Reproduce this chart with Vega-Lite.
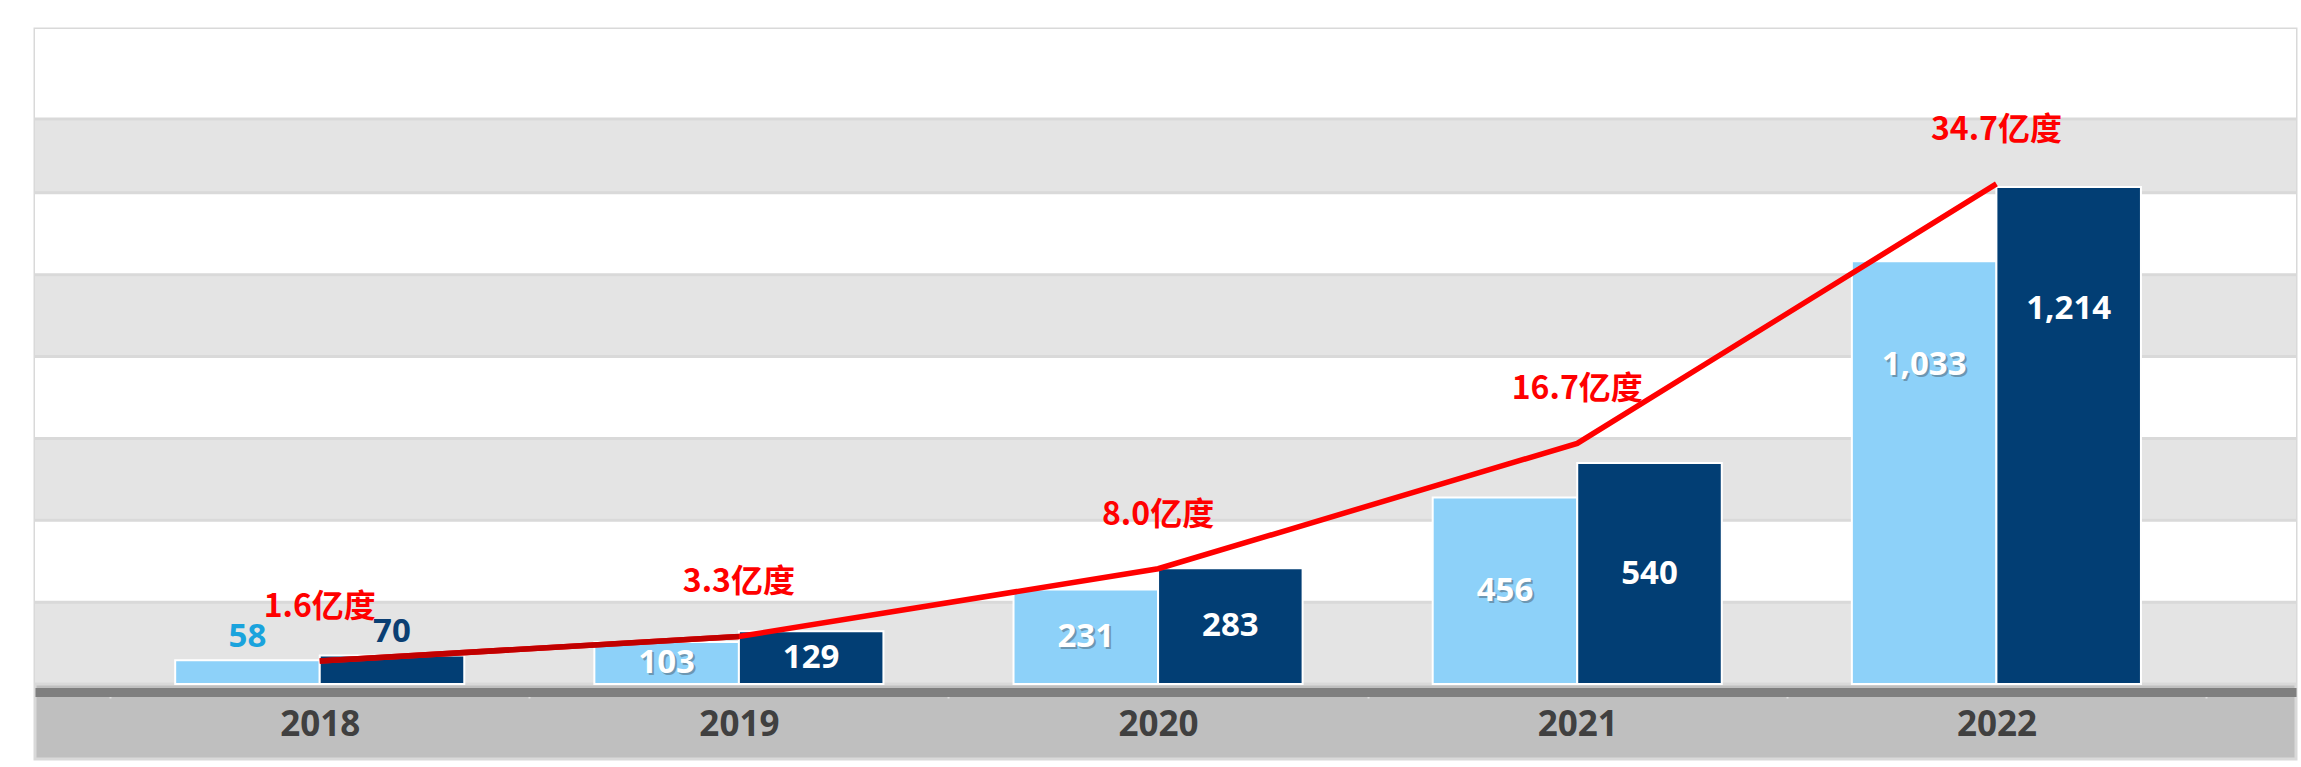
{
  "$schema": "https://vega.github.io/schema/vega-lite/v6.json",
  "width": 2261,
  "height": 730,
  "padding": {"left": 33, "top": 29, "right": 7, "bottom": 8},
  "background": "#FFFFFF",
  "config": {
    "view": {"fill": "#BFBFBF", "stroke": "#D9D9D9", "strokeWidth": 3},
    "axisX": {
      "domainColor": "#7F7F7F",
      "domainWidth": 9,
      "offset": -67,
      "tickBand": "extent",
      "tickColor": "#DDDDDD",
      "tickWidth": 2,
      "tickSize": 6,
      "labelFont": "Open Sans",
      "labelFontSize": 35,
      "labelFontWeight": "bold",
      "labelColor": "#404040",
      "labelPadding": 26,
      "labelBaseline": "middle",
      "labelAngle": 0,
      "grid": false,
      "title": null
    }
  },
  "datasets": {
    "bars": [
      {"year": "2018", "series": "系列1", "value": 58},
      {"year": "2018", "series": "系列2", "value": 70},
      {"year": "2019", "series": "系列1", "value": 103},
      {"year": "2019", "series": "系列2", "value": 129},
      {"year": "2020", "series": "系列1", "value": 231},
      {"year": "2020", "series": "系列2", "value": 283},
      {"year": "2021", "series": "系列1", "value": 456},
      {"year": "2021", "series": "系列2", "value": 540},
      {"year": "2022", "series": "系列1", "value": 1033},
      {"year": "2022", "series": "系列2", "value": 1214}
    ],
    "energy": [
      {"year": "2018", "energy": 1.6},
      {"year": "2019", "energy": 3.3},
      {"year": "2020", "energy": 8.0},
      {"year": "2021", "energy": 16.7},
      {"year": "2022", "energy": 34.7}
    ],
    "bands": [
      {"lo": 0, "hi": 200},
      {"lo": 200, "hi": 400},
      {"lo": 400, "hi": 600},
      {"lo": 600, "hi": 800},
      {"lo": 800, "hi": 1000},
      {"lo": 1000, "hi": 1200},
      {"lo": 1200, "hi": 1380},
      {"lo": 1380, "hi": 1600}
    ]
  },
  "layer": [
    {
      "layer": [
        {
          "data": {"name": "bands"},
          "mark": {"type": "rect"},
          "encoding": {
            "y": {"field": "lo", "type": "quantitative", "scale": {"domain": [-183, 1600], "nice": false, "zero": false}, "axis": null},
            "y2": {"field": "hi"},
            "color": {"condition": {"test": "datum.lo % 400 === 0", "value": "#E4E4E4"}, "value": "#FFFFFF"}
          }
        },
        {
          "data": {"name": "bands"},
          "mark": {"type": "rule", "color": "#D9D9D9", "strokeWidth": 3},
          "encoding": {
            "y": {"field": "lo", "type": "quantitative", "axis": null}
          }
        },
        {
          "data": {"name": "bars"},
          "mark": {"type": "bar", "stroke": "#FFFFFF", "strokeWidth": 2},
          "encoding": {
            "x": {"field": "year", "type": "nominal", "title": null, "scale": {"paddingInner": 0, "paddingOuter": 0.197, "align": 0.455}},
            "xOffset": {"field": "series", "scale": {"paddingInner": 0, "paddingOuter": 0.45}},
            "y": {"field": "value", "type": "quantitative", "axis": null},
            "color": {"field": "series", "type": "nominal", "scale": {"domain": ["系列1", "系列2"], "range": ["#8DD1F9", "#023E74"]}, "legend": null}
          }
        },
        {
          "data": {"name": "bars"},
          "transform": [
            {"filter": "datum.value >= 100 && datum.series === '系列1'"},
            {"calculate": "datum.value > 1000 ? datum.value * 0.755 : datum.value / 2", "as": "labelPos"}
          ],
          "mark": {"type": "text", "font": "Open Sans", "fontSize": 33, "fontWeight": "bold", "baseline": "middle", "dx": 2, "dy": 2, "color": "#5F7F95", "opacity": 0.7},
          "encoding": {
            "x": {"field": "year", "type": "nominal", "title": null},
            "xOffset": {"field": "series"},
            "y": {"field": "labelPos", "type": "quantitative", "axis": null},
            "text": {"field": "value", "type": "quantitative", "format": ","}
          }
        },
        {
          "data": {"name": "bars"},
          "transform": [
            {"filter": "datum.value >= 100"},
            {"calculate": "datum.value > 1000 ? datum.value * 0.755 : datum.value / 2", "as": "labelPos"}
          ],
          "mark": {"type": "text", "font": "Open Sans", "fontSize": 33, "fontWeight": "bold", "baseline": "middle", "color": "#FFFFFF"},
          "encoding": {
            "x": {"field": "year", "type": "nominal", "title": null},
            "xOffset": {"field": "series"},
            "y": {"field": "labelPos", "type": "quantitative", "axis": null},
            "text": {"field": "value", "type": "quantitative", "format": ","}
          }
        },
        {
          "data": {"name": "bars"},
          "transform": [
            {"filter": "datum.value < 100"}
          ],
          "mark": {"type": "text", "font": "Open Sans", "fontSize": 33, "fontWeight": "bold", "baseline": "alphabetic", "dy": -13},
          "encoding": {
            "x": {"field": "year", "type": "nominal", "title": null},
            "xOffset": {"field": "series"},
            "y": {"field": "value", "type": "quantitative", "axis": null},
            "text": {"field": "value", "type": "quantitative", "format": ","},
            "color": {"condition": {"test": "datum.series === '系列1'", "value": "#1AA3DD"}, "value": "#0B3F73"}
          }
        }
      ]
    },
    {
      "data": {"name": "energy"},
      "layer": [
        {
          "mark": {"type": "line", "color": "#FF0000", "strokeWidth": 5.5},
          "encoding": {
            "x": {"field": "year", "type": "nominal", "title": null},
            "y": {"field": "energy", "type": "quantitative", "scale": {"domain": [-5.2, 45.45], "nice": false, "zero": false}, "axis": null}
          }
        },
        {
          "transform": [{"filter": "datum.year === '2018' || datum.year === '2019'"}],
          "mark": {"type": "line", "color": "#C00000", "strokeWidth": 5.5},
          "encoding": {
            "x": {"field": "year", "type": "nominal", "title": null},
            "y": {"field": "energy", "type": "quantitative", "axis": null}
          }
        },
        {
          "transform": [{"calculate": "format(datum.energy, '.1f') + '亿度'", "as": "label"}],
          "mark": {"type": "text", "font": "Noto Sans CJK SC", "fontSize": 32, "fontWeight": "bold", "color": "#FF0000", "baseline": "middle", "dy": -54},
          "encoding": {
            "x": {"field": "year", "type": "nominal", "title": null},
            "y": {"field": "energy", "type": "quantitative", "axis": null},
            "text": {"field": "label", "type": "nominal"}
          }
        }
      ]
    }
  ],
  "resolve": {"scale": {"y": "independent"}}
}
